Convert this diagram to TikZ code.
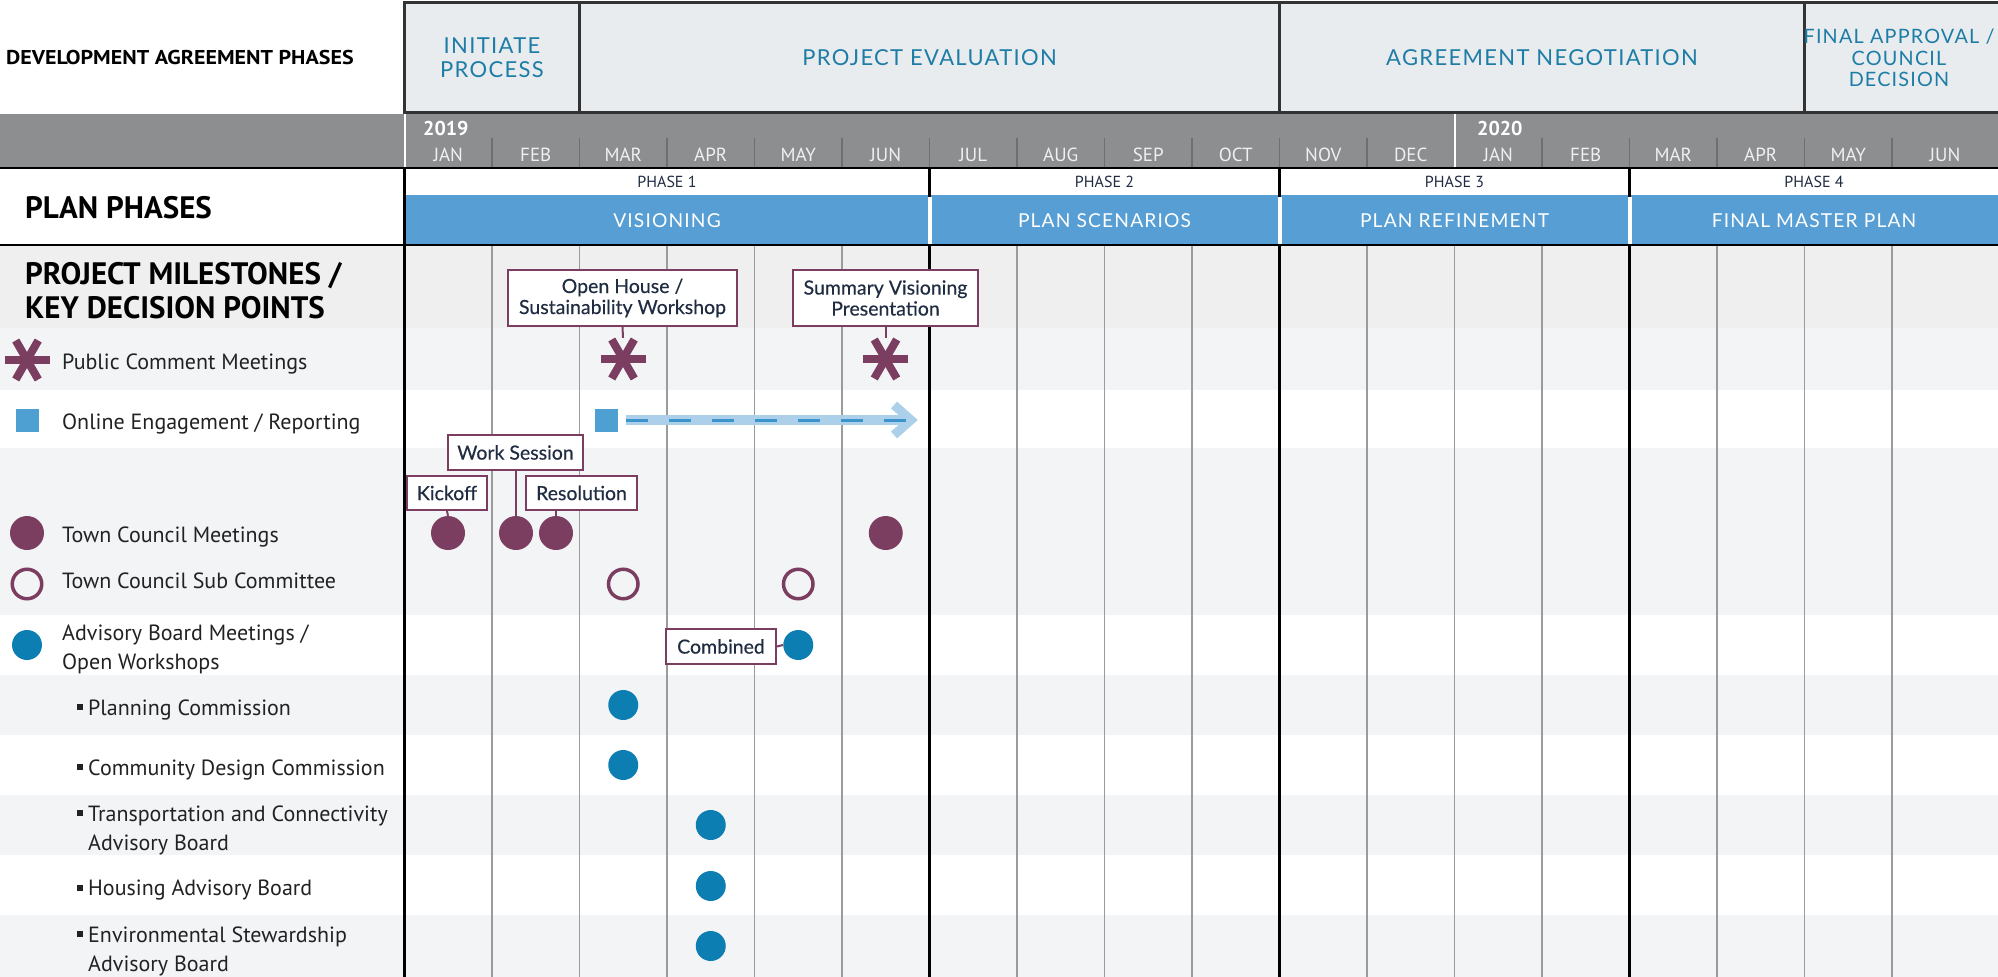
\documentclass[tikz,border=0pt]{standalone}
\usepackage{fontspec}
\setmainfont{PT Sans}
\newfontfamily\boxfont[FakeBold=0.3]{Lato}
\newfontfamily\hdrfont[LetterSpace=6]{Lato}
\newfontfamily\widebold[FakeStretch=1.1]{PT Sans Bold}
\usetikzlibrary{calc}
\definecolor{maroon}{RGB}{124,62,96}
\definecolor{advblue}{RGB}{12,126,178}
\definecolor{sqblue}{RGB}{78,160,211}
\definecolor{arrowlight}{RGB}{172,208,233}
\definecolor{dashblue}{RGB}{60,148,204}
\definecolor{planblue}{RGB}{86,158,211}
\definecolor{hdrfill}{RGB}{233,236,239}
\definecolor{hdrtext}{RGB}{30,125,166}
\definecolor{monthbar}{RGB}{141,142,144}
\definecolor{monthtick}{RGB}{110,111,113}
\definecolor{navy}{RGB}{32,44,66}
\definecolor{bandgray}{RGB}{243,244,246}
\definecolor{titlegray}{RGB}{239,239,239}
\definecolor{gridgray}{RGB}{155,155,155}
\definecolor{labeltext}{RGB}{34,34,34}
\begin{document}
\begin{tikzpicture}[x=1pt,y=-1pt,
  lbl/.style={anchor=west, inner sep=0, align=left, text=labeltext, font=\fontsize{22}{29}\selectfont},
  callout/.style={draw=maroon, line width=2, fill=white, text=navy, align=center, inner sep=0,
    font=\boxfont\fontsize{19.5}{21}\selectfont},
  tcdot/.style={circle, fill=maroon, minimum size=34, inner sep=0},
  subdot/.style={circle, draw=maroon, line width=3.5, minimum size=29.5, inner sep=0},
  advdot/.style={circle, fill=advblue, minimum size=30, inner sep=0},
  sqmark/.style={rectangle, fill=sqblue, minimum size=23, inner sep=0},
  astnode/.style={circle, minimum size=42, inner sep=0},
  bulletmark/.style={rectangle, fill=labeltext, minimum size=6.5, inner sep=0},
  hdrtxt/.style={text=hdrtext, align=center, inner sep=0, font=\hdrfont\fontsize{22}{24}\selectfont},
  plantxt/.style={text=white, inner sep=0, font=\hdrfont\fontsize{19.2}{22}\selectfont},
  monthlbl/.style={text=white!94!black, inner sep=0, font=\fontsize{19}{20}\selectfont},
  phaselbl/.style={text=navy, inner sep=0, font=\fontsize{16}{18}\selectfont},
  heading/.style={anchor=west, inner sep=0, align=left, text=black, font=\bfseries},
  conn/.style={draw=maroon, line width=2},
  gridline/.style={draw=gridgray, line width=1.6},
  phaseline/.style={draw=black, line width=2.6}
]
\useasboundingbox (0,0) rectangle (1998,977);
\fill[white] (0,0) rectangle (1998,977);
% ---------- row bands ----------
\fill[titlegray] (0,245) rectangle (1998,328);
\fill[bandgray] (0,328) rectangle (1998,390);
\fill[bandgray] (0,448) rectangle (1998,615);
\foreach \a/\b in {675/735,795/855,915/977} \fill[bandgray] (0,\a) rectangle (1998,\b);
% ---------- plan phase bar ----------
\fill[planblue] (404.5,195) rectangle (1998,245);
% ---------- grid ----------
\foreach \i in {1,2,3,4,5,7,8,9,11,12,13,15,16,17}
  \draw[gridline] ({404.5+87.5*\i},245) -- ({404.5+87.5*\i},977);
\foreach \i in {0,6,10,14}
  \draw[phaseline] ({404.5+87.5*\i},168) -- ({404.5+87.5*\i},977);
\foreach \i in {6,10,14}
  \draw[white, line width=4] ({404.5+87.5*\i},196.5) -- ({404.5+87.5*\i},243.5);
% ---------- top header ----------
\fill[hdrfill] (404.5,2.5) rectangle (2005,112.5);
\draw[black!80, line width=2.5] (2005,2.5) -- (404.5,2.5) -- (404.5,112.5) -- (2005,112.5);
\foreach \i in {2,10,16}
  \draw[black!80, line width=2.5] ({404.5+87.5*\i},2.5) -- ({404.5+87.5*\i},112.5);
\node[hdrtxt] (h1) at (492,58) {INITIATE\\PROCESS};
\node[hdrtxt] (h2) at (929.5,58) {PROJECT EVALUATION};
\node[hdrtxt] (h3) at (1542,58) {AGREEMENT NEGOTIATION};
\node[hdrtxt, font=\hdrfont\fontsize{19.8}{21.5}\selectfont] (h4) at (1899,58) {FINAL APPROVAL /\\COUNCIL\\DECISION};
\node[heading, font=\widebold\fontsize{20}{22}\selectfont] (dap) at (6,57) {DEVELOPMENT AGREEMENT PHASES};
% ---------- month bar ----------
\fill[monthbar] (0,113.75) rectangle (1998,168);
\foreach \i in {1,2,3,4,5,6,7,8,9,10,11,13,14,15,16,17}
  \draw[monthtick, line width=1.5] ({404.5+87.5*\i},138) -- ({404.5+87.5*\i},168);
\draw[white, line width=2] (404.5,113.75) -- (404.5,168);
\draw[white, line width=2] (1454.5,113.75) -- (1454.5,168);
\node[anchor=west, inner sep=0, text=white, font=\bfseries\fontsize{20}{22}\selectfont] (y19) at (423,128) {2019};
\node[anchor=west, inner sep=0, text=white, font=\bfseries\fontsize{20}{22}\selectfont] (y20) at (1477,128) {2020};
\foreach \m [count=\i from 0] in {JAN,FEB,MAR,APR,MAY,JUN,JUL,AUG,SEP,OCT,NOV,DEC,JAN,FEB,MAR,APR,MAY}
  \node[monthlbl] at ({448.25+87.5*\i},155) {\m};
\node[monthlbl] at (1945,155) {JUN};
% ---------- phase row ----------
\node[phaselbl] (p1) at (667,182) {PHASE 1};
\node[phaselbl] (p2) at (1104.5,182) {PHASE 2};
\node[phaselbl] (p3) at (1454.5,182) {PHASE 3};
\node[phaselbl] (p4) at (1814,182) {PHASE 4};
\node[plantxt] (v1) at (667,221) {VISIONING};
\node[plantxt] (v2) at (1104.5,221) {PLAN SCENARIOS};
\node[plantxt] (v3) at (1454.5,221) {PLAN REFINEMENT};
\node[plantxt] (v4) at (1814,221) {FINAL MASTER PLAN};
\draw[black, line width=2.6] (0,168) -- (1998,168);
\draw[black, line width=2.6] (0,245) -- (1998,245);
\node[heading, font=\bfseries\fontsize{31}{34}\selectfont] (pp) at (25,208) {PLAN PHASES};
\node[heading, font=\bfseries\fontsize{31}{34}\selectfont] (pm) at (25,291) {PROJECT MILESTONES /\\KEY DECISION POINTS};
% ---------- legend ----------
\node[astnode] (ast0) at (27,360) {};
\node[sqmark] (sq0) at (27,420) {};
\node[tcdot] (tc0) at (27,533) {};
\node[subdot] (sc0) at (27,584) {};
\node[advdot] (ad0) at (27,645) {};
\node[lbl] (l1) at (62,363.5) {Public Comment Meetings};
\node[lbl] (l2) at (62,423.5) {Online Engagement / Reporting};
\node[lbl] (l3) at (62,536.5) {Town Council Meetings};
\node[lbl] (l4) at (62,580.5) {Town Council Sub Committee};
\node[lbl] (l5) at (62,649.5) {Advisory Board Meetings /\\Open Workshops};
\node[bulletmark] (b1) at (80,707) {};
\node[bulletmark] (b2) at (80,767) {};
\node[bulletmark] (b3) at (80,813) {};
\node[bulletmark] (b4) at (80,888) {};
\node[bulletmark] (b5) at (80,934) {};
\node[lbl] (l6) at (88,709.5) {Planning Commission};
\node[lbl] (l7) at (88,769.5) {Community Design Commission};
\node[lbl] (l8) at (88,830) {Transportation and Connectivity\\Advisory Board};
\node[lbl] (l9) at (88,890.5) {Housing Advisory Board};
\node[lbl] (l10) at (88,951.5) {Environmental Stewardship\\Advisory Board};
% ---------- milestones ----------
\node[astnode] (ast1) at (623,359) {};
\node[astnode] (ast2) at (885.5,359) {};
\foreach \n in {ast0,ast1,ast2}
  \foreach \a in {0,60,120}
    \draw[maroon, line width=8] ($(\n.center)+(\a:22.5)$) -- ($(\n.center)+(\a+180:22.5)$);
\node[sqmark] (sq1) at (606.5,420) {};
\coordinate (aend) at (911,420);
\draw[arrowlight, line width=10, shorten <=8] (sq1.east) -- (aend);
\draw[arrowlight, line width=9, line join=miter] ($(aend)+(-17,-15)$) -- (aend) -- ($(aend)+(-17,15)$);
\draw[dashblue, line width=3, dash pattern=on 22pt off 21pt, shorten <=8, shorten >=4] (sq1.east) -- (aend);
\node[tcdot] (tc1) at (448,533) {};
\node[tcdot] (tc2) at (516,533) {};
\node[tcdot] (tc3) at (556,533) {};
\node[tcdot] (tc4) at (885.75,533) {};
\node[subdot] (sc1) at (623.25,584) {};
\node[subdot] (sc2) at (798.25,584) {};
\node[advdot] (ad1) at (798.25,645) {};
\node[advdot] (pc1) at (623.25,705) {};
\node[advdot] (cd1) at (623.25,765) {};
\node[advdot] (tr1) at (710.75,825) {};
\node[advdot] (hb1) at (710.75,886) {};
\node[advdot] (es1) at (710.75,946) {};
% callouts
\node[callout, minimum width=229, minimum height=56] (oh) at (622.5,298) {Open House /\\Sustainability Workshop};
\node[callout, minimum width=185, minimum height=56] (sv) at (885.5,298) {Summary Visioning\\Presentation};
\node[callout, minimum width=80, minimum height=34] (ko) at (447,493) {Kickoff};
\node[callout, minimum width=135, minimum height=35] (ws) at (515.5,452.5) {Work Session};
\node[callout, minimum width=111, minimum height=34] (rs) at (581.5,493) {Resolution};
\node[callout, minimum width=110, minimum height=35] (cb) at (721,646.5) {Combined};
\draw[conn] (oh.south) -- (ast1.north);
\draw[conn] (sv.south) -- (ast2.north);
\draw[conn] (ko.south) -- (tc1.north);
\draw[conn] (tc2.north |- ws.south) -- (tc2.north);
\draw[conn] (tc3.north |- rs.south) -- (tc3.north);
\draw[conn] (cb.east) -- (ad1.west);
\end{tikzpicture}
\end{document}
